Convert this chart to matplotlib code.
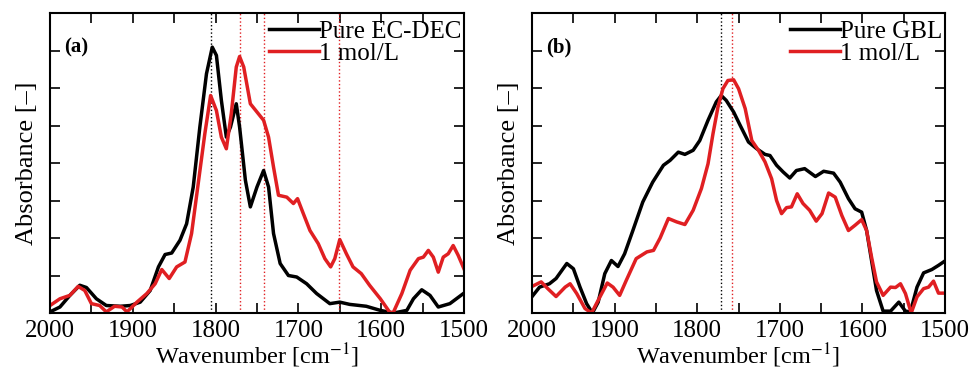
import numpy as np
import matplotlib
matplotlib.use("Agg")
import matplotlib.pyplot as plt
from matplotlib.ticker import MultipleLocator, NullFormatter

plt.rcParams["font.family"] = ["Liberation Serif", "DejaVu Serif"]
plt.rcParams["mathtext.fontset"] = "stix"

RED = "#e01f22"

# (a) EC-DEC
wn_a_pure = [2000, 1988, 1976, 1964, 1956, 1944, 1932, 1915, 1903, 1891, 1879, 1869,
             1861, 1853, 1843, 1835, 1827, 1819, 1811, 1804, 1799, 1793, 1787, 1782,
             1775, 1771, 1764, 1758, 1750, 1742, 1736, 1730, 1722, 1712, 1702, 1690,
             1678, 1662, 1650, 1638, 1618, 1601, 1585, 1569, 1561, 1551, 1541, 1531,
             1517, 1500]
abs_a_pure = [0.03, 0.16, 0.47, 0.74, 0.68, 0.38, 0.20, 0.18, 0.20, 0.29, 0.60, 1.23,
              1.56, 1.60, 1.94, 2.38, 3.36, 4.96, 6.38, 7.09, 6.87, 5.67, 4.69, 4.96,
              5.58, 4.96, 3.54, 2.83, 3.36, 3.80, 3.36, 2.12, 1.32, 1.00, 0.96, 0.78,
              0.52, 0.25, 0.29, 0.23, 0.18, 0.07, 0.00, 0.07, 0.38, 0.62, 0.47, 0.16,
              0.25, 0.53]

wn_a_salt = [2000, 1988, 1976, 1966, 1958, 1950, 1940, 1932, 1922, 1913, 1907, 1895,
             1883, 1873, 1865, 1856, 1847, 1837, 1829, 1821, 1813, 1806, 1799, 1793,
             1787, 1781, 1775, 1771, 1766, 1758, 1750, 1742, 1736, 1730, 1724, 1714,
             1706, 1701, 1694, 1686, 1676, 1668, 1661, 1656, 1650, 1642, 1634, 1624,
             1614, 1601, 1589, 1585, 1575, 1565, 1555, 1549, 1543, 1537, 1531, 1525,
             1519, 1513, 1507, 1500]
abs_a_salt = [0.20, 0.38, 0.47, 0.71, 0.60, 0.25, 0.20, 0.03, 0.18, 0.16, 0.03, 0.29,
              0.52, 0.78, 1.16, 0.92, 1.23, 1.36, 2.12, 3.45, 4.78, 5.80, 5.40, 4.69,
              4.38, 5.32, 6.56, 6.84, 6.56, 5.58, 5.36, 5.14, 4.69, 3.89, 3.14, 3.09,
              2.92, 3.05, 2.65, 2.20, 1.85, 1.45, 1.23, 1.45, 1.96, 1.58, 1.23, 1.05,
              0.74, 0.38, 0.00, 0.03, 0.52, 1.14, 1.45, 1.49, 1.67, 1.49, 1.09, 1.49,
              1.58, 1.80, 1.54, 1.18]

# (b) GBL
wn_b_pure = [2000, 1991, 1979, 1971, 1958, 1950, 1942, 1934, 1927, 1920, 1912, 1904,
             1896, 1888, 1878, 1866, 1854, 1841, 1833, 1823, 1815, 1805, 1797, 1787,
             1777, 1771, 1765, 1756, 1748, 1738, 1728, 1718, 1712, 1704, 1696, 1688,
             1680, 1670, 1657, 1647, 1635, 1627, 1617, 1609, 1601, 1595, 1589, 1583,
             1575, 1566, 1556, 1548, 1542, 1534, 1526, 1516, 1508, 1500]
abs_b_pure = [0.44, 0.69, 0.78, 0.92, 1.32, 1.18, 0.69, 0.25, 0.00, 0.29, 1.05, 1.40,
              1.24, 1.58, 2.20, 2.96, 3.49, 3.94, 4.07, 4.29, 4.23, 4.34, 4.60, 5.14,
              5.63, 5.80, 5.67, 5.36, 5.00, 4.56, 4.38, 4.23, 4.20, 3.94, 3.76, 3.60,
              3.80, 3.85, 3.64, 3.78, 3.73, 3.49, 3.05, 2.78, 2.69, 2.20, 1.40, 0.60,
              0.05, 0.05, 0.29, 0.05, 0.03, 0.69, 1.07, 1.16, 1.27, 1.39]

wn_b_salt = [2000, 1989, 1981, 1971, 1960, 1954, 1946, 1936, 1928, 1920, 1909, 1902,
             1894, 1886, 1874, 1861, 1853, 1845, 1835, 1825, 1815, 1805, 1795, 1787,
             1781, 1775, 1769, 1763, 1756, 1750, 1742, 1734, 1726, 1718, 1710, 1704,
             1698, 1692, 1686, 1679, 1672, 1664, 1656, 1649, 1641, 1633, 1625, 1617,
             1609, 1601, 1595, 1589, 1583, 1575, 1566, 1560, 1554, 1548, 1541, 1534,
             1526, 1520, 1514, 1508, 1500]
abs_b_salt = [0.71, 0.83, 0.65, 0.44, 0.69, 0.78, 0.52, 0.12, 0.00, 0.34, 0.80, 0.69,
              0.47, 0.87, 1.45, 1.63, 1.67, 2.00, 2.52, 2.43, 2.36, 2.74, 3.32, 3.98,
              4.78, 5.49, 5.98, 6.20, 6.22, 5.98, 5.45, 4.60, 4.34, 4.03, 3.58, 3.00,
              2.65, 2.81, 2.83, 3.18, 2.92, 2.74, 2.45, 2.65, 3.20, 3.09, 2.60, 2.20,
              2.34, 2.49, 2.20, 1.49, 0.83, 0.47, 0.69, 0.68, 0.78, 0.52, 0.00, 0.43,
              0.65, 0.69, 0.85, 0.53, 0.53]

# peak markers
peaks_a_pure = [1805]
peaks_a_salt = [1771, 1742, 1651]
peaks_b_pure = [1771]
peaks_b_salt = [1758]


def style_axis(ax, label):
    ax.set_xlim(2000, 1500)
    ax.set_ylim(0, 8)
    ax.xaxis.set_major_locator(MultipleLocator(100))
    ax.xaxis.set_minor_locator(MultipleLocator(50))
    ax.yaxis.set_major_locator(MultipleLocator(1))
    ax.yaxis.set_major_formatter(NullFormatter())
    ax.tick_params(which="both", direction="in", top=True, right=True,
                   length=7, width=1.2, labelsize=18, pad=5)
    for sp in ax.spines.values():
        sp.set_linewidth(1.5)
    ax.set_xlabel(r"Wavenumber [cm$^{-1}$]", fontsize=17.5, labelpad=0)
    ax.set_ylabel("Absorbance [–]", fontsize=19, labelpad=4)
    ax.text(0.035, 0.87, label, transform=ax.transAxes, fontsize=15,
            fontweight="bold")


fig = plt.figure(figsize=(9.71, 3.71), dpi=100)
ax_a = fig.add_axes([0.0515, 0.1563, 0.4263, 0.8086])
ax_b = fig.add_axes([0.548, 0.1563, 0.4253, 0.8086])

panels = [
    (ax_a, wn_a_pure, abs_a_pure, wn_a_salt, abs_a_salt,
     peaks_a_pure, peaks_a_salt, "Pure EC-DEC", "(a)"),
    (ax_b, wn_b_pure, abs_b_pure, wn_b_salt, abs_b_salt,
     peaks_b_pure, peaks_b_salt, "Pure GBL", "(b)"),
]

for ax, wp, ap, ws, as_, pk_p, pk_s, name, label in panels:
    for x in pk_p:
        ax.axvline(x, color="black", linestyle=":", linewidth=1.0)
    for x in pk_s:
        ax.axvline(x, color=RED, linestyle=":", linewidth=1.0)
    ax.plot(wp, ap, color="black", linewidth=2.5, label=name)
    ax.plot(ws, as_, color=RED, linewidth=2.5, label="1 mol/L")
    style_axis(ax, label)
    ax.legend(loc="upper right", bbox_to_anchor=(1.0, 0.985), frameon=False,
              fontsize=18, handlelength=2.0, handletextpad=0.0,
              labelspacing=0.0, borderaxespad=0.0, borderpad=0.1)

fig.savefig("out.png", dpi=100)
